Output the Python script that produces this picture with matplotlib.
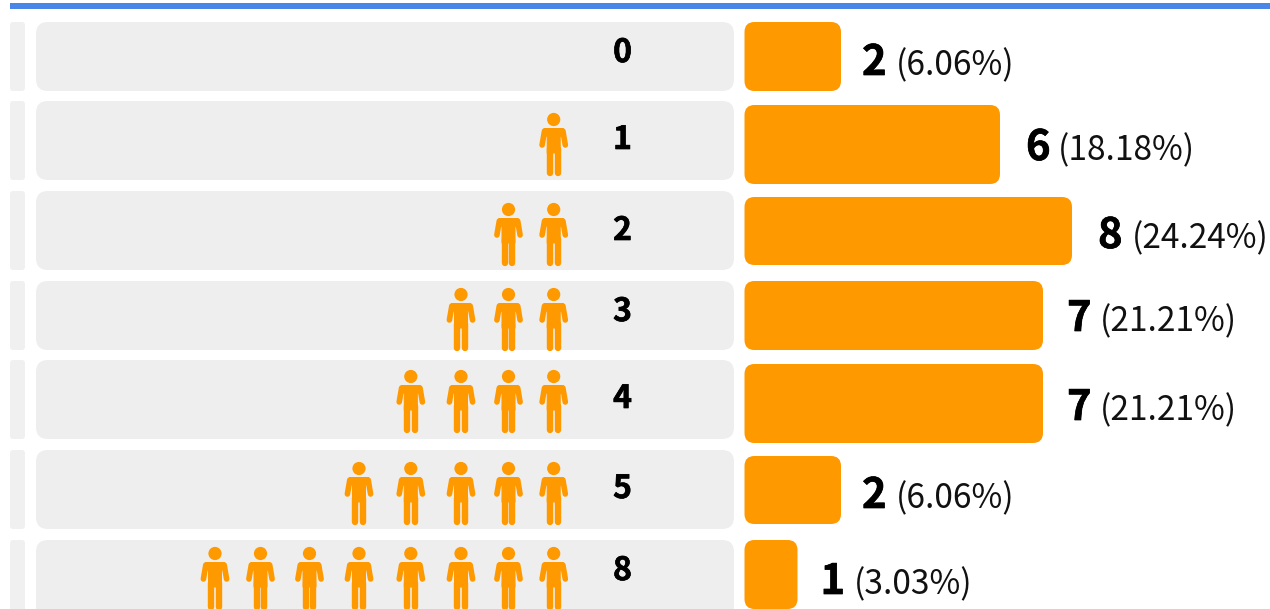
import numpy as np
import matplotlib
matplotlib.use("Agg")
import matplotlib.pyplot as plt
import matplotlib.patheffects as pe
from matplotlib.patches import FancyBboxPatch, Circle, Polygon

plt.rcParams['font.family'] = ['Noto Sans CJK SC', 'DejaVu Sans']

# data
categories = [0, 1, 2, 3, 4, 5, 8]
counts = [2, 6, 8, 7, 7, 2, 1]
percents = [6.06, 18.18, 24.24, 21.21, 21.21, 6.06, 3.03]

# layout, all in pixels of the picture
ORANGE = '#ff9900'
GREY = '#eeeeee'
row_top = [22, 101, 191, 281, 360, 450, 540]
row_bottom = [91, 180, 270, 350, 439, 529, 619]
bar_top = [22, 105, 197, 281, 364, 456, 540]
bar_bottom = [91, 184, 265, 350, 443, 524, 609]
icon_top = [0, 113, 203, 288, 370, 462, 547]
cat_base = [62, 149, 240, 321, 408, 498, 580]
val_base = [75, 160, 248, 331, 420, 508, 594]
val_gap = [21, 26, 26, 24, 24, 21, 23]
pct_gap = [54.5, 58, 60, 56.5, 56.5, 54.5, 56.5]
icon_x = [553.7, 508.5, 461, 410.8, 359, 309.5, 260.5, 215]
# the bars are not quite linear in the source
scale_in = [0, 1, 2, 6, 7, 8]
scale_out = [0, 53, 96.5, 255.5, 298.5, 327.5]
BAR_X0 = 744.5


def px(w):
    return w * 72 / 100


def box(ax, x0, y0, x1, y1, r, color):
    ax.add_patch(FancyBboxPatch((x0 + r, y0 + r), x1 - x0 - 2 * r, y1 - y0 - 2 * r,
                                boxstyle='round,pad=%f,rounding_size=%f' % (r, r),
                                fc=color, ec='none'))


def person(ax, cx, top):
    ax.add_patch(Circle((cx, top + 6.5), 6.6, fc=ORANGE, ec='none'))
    ax.add_patch(Polygon([(cx - 9.5, top + 15.5), (cx + 9.5, top + 15.5), (cx + 9.5, top + 20),
                          (cx + 6.5, top + 24), (cx + 6.5, top + 40), (cx - 6.5, top + 40),
                          (cx - 6.5, top + 24), (cx - 9.5, top + 20)],
                         fc=ORANGE, ec=ORANGE, lw=px(1), joinstyle='round'))
    for s in (-1, 1):
        ax.plot([cx + s * 9.2, cx + s * 11.6], [top + 18, top + 32], color=ORANGE,
                lw=px(5.6), solid_capstyle='round')
        ax.plot([cx + s * 3.8, cx + s * 3.8], [top + 36, top + 59.8], color=ORANGE,
                lw=px(6.4), solid_capstyle='round')


fig = plt.figure(figsize=(12.7, 6.09), dpi=100)
ax = fig.add_axes([0, 0, 1, 1])
ax.set_xlim(0, 1270)
ax.set_ylim(609, 0)
ax.axis('off')

ax.fill_between([10, 1270], 3, 9, color='#4a86e8', lw=0)

heavy = [pe.withStroke(linewidth=px(0.7), foreground='black')]

for i, cat in enumerate(categories):
    box(ax, 10, row_top[i], 25, row_bottom[i], 3, '#f0f0f0')
    box(ax, 36, row_top[i], 734, row_bottom[i], 12, GREY)
    for j in range(cat):
        person(ax, icon_x[j], icon_top[i])
    ax.text(622.5, cat_base[i], str(cat), ha='center', va='baseline', fontsize=23,
            fontweight='bold', color='black', path_effects=heavy)

    end = BAR_X0 + np.interp(counts[i], scale_in, scale_out)
    box(ax, BAR_X0, bar_top[i], end, bar_bottom[i], 10, ORANGE)
    ax.text(end + val_gap[i], val_base[i], str(counts[i]), ha='left', va='baseline', fontsize=30,
            fontweight='bold', color='black', path_effects=heavy)
    ax.text(end + pct_gap[i], val_base[i], '(%.2f%%)' % percents[i], ha='left', va='baseline',
            fontsize=24.1, color='#111111')

fig.savefig('out.png', dpi=100)
